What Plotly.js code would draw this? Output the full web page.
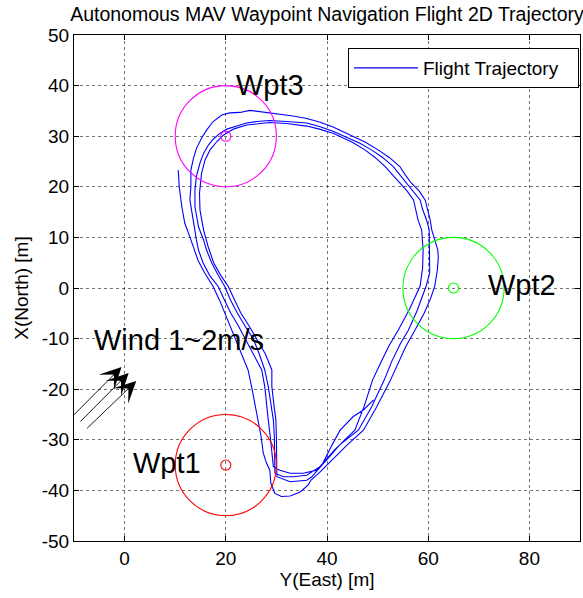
<!DOCTYPE html>
<html>
<head>
<meta charset="utf-8">
<script src="https://cdn.plot.ly/plotly-3.0.1.min.js"></script>
<style>html,body{margin:0;padding:0;background:#fff;}#chart{width:583px;height:598px;}</style>
</head>
<body>
<div id="chart"></div>
<script>
// ---- Trajectory (East = x, North = y), flown in 4 passes ----
const trajEast = [
  // pass 1 (start, west side going south)
  10.6,10.8,11.3,11.9,12.9,13.6,14.5,15.8,17.5,18.8,20.0,21.0,21.8,23.0,24.4,25.1,25.8,26.4,27.0,27.4,28.0,28.7,28.9,29.7,31.0,32.7,34.7,36.3,36.8,
  38.5,41.0,44.0,47.2,49.8,52.4,54.0,55.6,57.4,59.2,60.5,61.3,61.8,62.0,61.9,61.2,60.7,60.4,59.8,59.4,58.2,56.7,55.5,54.4,52.3,50.1,47.6,45.0,41.2,38.5,36.0,33.3,29.4,26.8,24.8,22.8,20.8,19.2,17.5,16.2,15.2,14.2,13.6,13.1,13.1,12.9,13.6,14.2,14.6,
  // pass 2
  15.5,16.8,18.5,19.8,21.0,22.5,23.8,25.5,27.1,27.7,28.0,28.4,28.8,29.1,29.4,30.7,32.7,35.3,38.0,39.9,
  42.5,46.2,48.8,51.3,52.8,54.5,56.1,57.8,59.6,60.3,60.3,60.3,60.2,59.7,58.9,58.4,57.0,55.7,54.5,53.1,51.0,48.8,46.5,44.0,41.2,38.5,36.0,32.0,28.7,26.1,24.1,22.2,20.2,18.9,17.5,16.6,15.6,14.9,14.2,13.9,13.9,14.6,15.6,16.2,
  // pass 3
  17.2,18.5,19.8,21.0,22.3,23.8,25.4,26.6,27.7,28.4,28.9,29.4,29.6,29.7,29.7,29.7,31.4,33.3,36.0,38.6,
  41.5,45.5,47.3,49.0,50.5,52.2,54.1,56.4,58.4,58.9,59.0,58.7,58.0,57.6,57.1,55.8,54.4,53.0,51.5,49.5,47.5,45.0,43.0,41.2,38.5,36.0,32.0,28.7,24.1,21.5,19.5,18.2,16.9,15.9,15.2,14.8,14.9,15.6,16.5,
  // pass 4 (ends on the diagonal leg)
  17.6,19.0,20.5,21.8,23.0,24.6,26.1,27.8,29.1,29.1,29.5,29.9,30.0,30.0,30.1,30.1,32.7,36.0,37.0,
  39.0,41.0,42.6,45.2,47.2,49.2
];
const trajNorth = [
  23.3,20.0,16.1,12.8,10.1,8.0,5.5,3.0,0.3,-2.5,-5.5,-8.0,-10.0,-13.0,-16.2,-19.5,-23.0,-26.1,-29.5,-32.6,-34.5,-36.0,-38.6,-40.6,-41.2,-41.1,-40.3,-38.9,-38.0,
  -36.5,-34.0,-31.0,-28.1,-23.5,-18.5,-15.0,-11.5,-8.3,-5.0,-2.0,0.4,3.5,6.0,7.5,10.0,11.5,13.4,15.5,17.4,19.2,20.7,22.3,24.0,25.8,27.3,28.8,30.0,31.8,32.8,33.5,34.0,34.5,34.8,35.1,34.7,34.6,34.2,32.9,31.2,29.6,27.6,25.6,23.3,20.0,17.4,12.8,9.5,7.5,
  5.0,2.5,0.3,-2.5,-5.0,-7.5,-10.0,-13.0,-16.2,-19.5,-23.0,-26.1,-29.5,-32.6,-35.3,-36.0,-36.6,-36.6,-36.0,-34.0,
  -31.0,-28.1,-23.5,-18.2,-14.5,-11.0,-8.3,-4.5,0.4,3.0,4.2,8.9,11.5,13.4,15.5,17.4,19.2,20.7,22.3,24.0,25.8,27.3,28.6,29.8,31.0,31.9,32.6,32.9,33.1,32.9,32.6,32.0,31.4,30.6,29.4,28.3,26.6,24.7,22.1,19.4,16.1,12.1,9.5,7.5,
  5.0,2.5,0.3,-2.5,-5.0,-7.5,-10.0,-13.0,-16.2,-19.5,-23.0,-26.1,-29.5,-32.6,-35.5,-36.6,-37.3,-37.3,-37.0,-35.3,
  -32.0,-28.1,-23.5,-18.2,-15.0,-11.5,-8.3,-4.0,0.4,4.0,7.5,11.5,13.4,15.5,17.4,19.2,20.7,22.3,24.0,25.8,27.3,28.8,29.8,30.6,31.4,32.0,32.5,32.7,32.2,31.4,30.2,28.9,27.3,25.3,22.6,18.7,15.4,11.5,8.2,
  5.0,2.5,0.3,-2.5,-5.0,-7.5,-10.0,-13.0,-16.2,-19.5,-23.0,-26.1,-29.5,-32.6,-35.5,-37.3,-38.3,-38.0,-37.3,
  -35.0,-31.0,-28.1,-25.4,-24.1,-22.1
];

// ---- Waypoints ----
const wptNames = ['Wpt1', 'Wpt2', 'Wpt3'];
const wptEast = [20, 65, 20];
const wptNorth = [-35, 0, 30];
const wptRadius = [10, 10, 10];
const wptMarkRadius = [1, 1, 1];
const wptColors = ['#ff0000', '#00ff00', '#ff00ff'];
const wptLabelEast = [8.4, 78.5, 28.7];
const wptLabelNorth = [-34.6, 0.6, 40.1];

// ---- Wind arrows (tail -> tip) ----
const windText = 'Wind 1~2m/s';
const windTextEast = 10.7, windTextNorth = -10.3;
const windTailEast = [-10.45, -9.05, -7.7];
const windTailNorth = [-25.5, -26.7, -28.0];
const windTipEast = [-0.6, 0.8, 2.3];
const windTipNorth = [-15.6, -16.8, -18.4];

// ---- Axes ----
const xTickVals = [0, 20, 40, 60, 80];
const xTickText = ['0', '20', '40', '60', '80'];
const yTickVals = [-50, -40, -30, -20, -10, 0, 10, 20, 30, 40, 50];
const yTickText = ['-50', '-40', '-30', '-20', '-10', '0', '10', '20', '30', '40', '50'];

const FONT = 'Liberation Sans, Arial, Helvetica, sans-serif';

const traces = [{
  type: 'scatter', mode: 'lines', name: 'Flight Trajectory',
  x: trajEast, y: trajNorth,
  line: {color: '#0000ff', width: 1.1}
}];

const shapes = [];
for (let i = 0; i < wptNames.length; i++) {
  [wptRadius[i], wptMarkRadius[i]].forEach(r => {
    shapes.push({type: 'circle', xref: 'x', yref: 'y',
      x0: wptEast[i] - r, x1: wptEast[i] + r, y0: wptNorth[i] - r, y1: wptNorth[i] + r,
      line: {color: wptColors[i], width: 1.1}});
  });
}

const annotations = [];
for (let i = 0; i < wptNames.length; i++) {
  annotations.push({x: wptLabelEast[i], y: wptLabelNorth[i], xref: 'x', yref: 'y',
    text: wptNames[i], showarrow: false, font: {family: FONT, size: 29, color: '#000'},
    xanchor: 'center', yanchor: 'middle'});
}
annotations.push({x: windTextEast, y: windTextNorth, xref: 'x', yref: 'y', text: windText,
  showarrow: false, font: {family: FONT, size: 29, color: '#000'}, xanchor: 'center', yanchor: 'middle'});
for (let i = 0; i < windTipEast.length; i++) {
  annotations.push({x: windTipEast[i], y: windTipNorth[i], xref: 'x', yref: 'y',
    ax: windTailEast[i], ay: windTailNorth[i], axref: 'x', ayref: 'y', text: '',
    showarrow: true, arrowhead: 3, arrowsize: 4, arrowwidth: 0.9, arrowcolor: '#000', standoff: 0});
}

const axisCommon = {
  showline: true, linecolor: '#000', linewidth: 1, mirror: 'ticks',
  ticks: 'inside', ticklen: 5, tickcolor: '#000', tickwidth: 1,
  showgrid: true, gridcolor: 'rgba(0,0,0,0.55)', griddash: 'dot', gridwidth: 1,
  zeroline: false, tickfont: {family: FONT, size: 19, color: '#000'}, tickmode: 'array'
};

const layout = {
  width: 583, height: 598,
  margin: {l: 74, r: 3, t: 35, b: 57},
  paper_bgcolor: '#fff', plot_bgcolor: '#fff',
  title: {text: 'Autonomous MAV Waypoint Navigation Flight 2D Trajectory',
    font: {family: FONT, size: 19.5, color: '#000'}, x: 0.5, xref: 'paper', y: 1 - 14/598, yref: 'container', yanchor: 'middle'},
  xaxis: Object.assign({}, axisCommon, {range: [-10, 90], tickvals: xTickVals, ticktext: xTickText,
    title: {text: 'Y(East) [m]', font: {family: FONT, size: 19, color: '#000'}, standoff: 4}}),
  yaxis: Object.assign({}, axisCommon, {range: [-50, 50], tickvals: yTickVals, ticktext: yTickText,
    title: {text: 'X(North) [m]', font: {family: FONT, size: 19, color: '#000'}, standoff: 8}}),
  showlegend: true,
  legend: {orientation: 'h', x: (348 - 74) / 506, y: (541 - 48) / 506, xanchor: 'left', yanchor: 'top',
    bgcolor: '#fff', bordercolor: '#000', borderwidth: 1, itemwidth: 64, entrywidth: 150, entrywidthmode: 'pixels',
    font: {family: FONT, size: 19, color: '#000'}},
  shapes: shapes, annotations: annotations
};

Plotly.newPlot('chart', traces, layout, {displayModeBar: false, staticPlot: true});
</script>
</body>
</html>
